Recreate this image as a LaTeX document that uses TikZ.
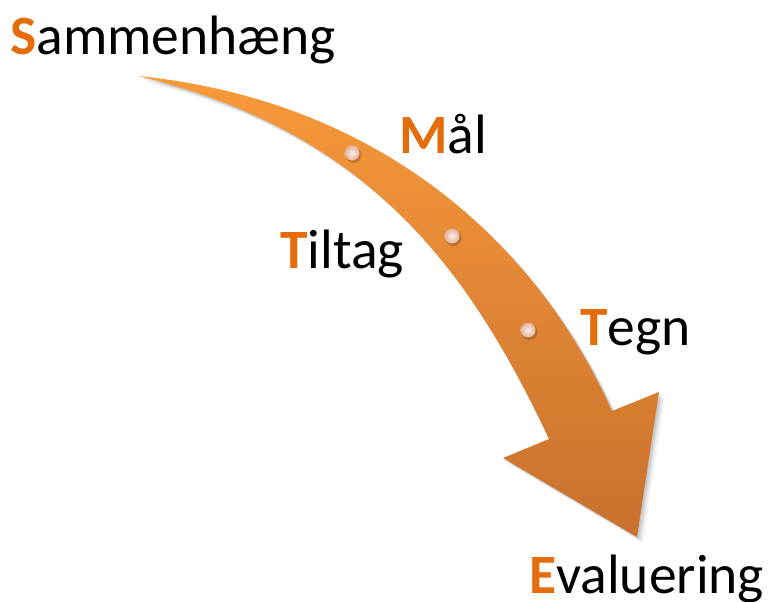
\documentclass[tikz,border=0pt]{standalone}
\usepackage{fontspec}
\setmainfont{Carlito}
\definecolor{accent}{RGB}{228,108,10}
\definecolor{arrtop}{RGB}{248,153,58}
\definecolor{arrbot}{RGB}{200,113,46}
\definecolor{dotin}{RGB}{252,238,230}
\definecolor{dotout}{RGB}{226,178,160}
\newcommand\firstl[1]{{\bfseries\color{accent}#1}}
\tikzset{
  lbl/.style={inner sep=0pt, anchor=base west, font=\fontsize{55.5}{60}\selectfont, text=black},
  dotball/.style={circle, minimum size=15pt, inner sep=0pt, inner color=dotin, outer color=dotout},
  dotshadow/.style={circle, minimum size=16pt, inner sep=0pt, fill=black, opacity=0.18}
}
\begin{document}
\begin{tikzpicture}[x=1pt,y=-1pt]
\useasboundingbox (0,0) rectangle (768,602);
\fill[white] (0,0) rectangle (768,602);
% arrow shape
\def\arrowpath{(138,76) .. controls (368,99) and (531,231) .. (612,411)
  -- (659,392) -- (637,537) -- (503,458) -- (549,439)
  .. controls (469,269) and (368,131) .. (138,76) -- cycle}
\foreach \o/\op in {6/0.04,4.5/0.05,3/0.07,1.5/0.08}{
  \fill[black, opacity=\op, shift={(\o,\o)}] \arrowpath;
}
\shade[top color=arrtop, bottom color=arrbot] \arrowpath;
% dots
\foreach \n/\px/\py in {d1/352/153, d2/452/236, d3/528/330}{
  \node[dotshadow] at (\px+1.5,\py+2) {};
  \node[dotball] (\n) at (\px,\py) {};
}
% labels
\node[lbl] (s) at (10,55) {\firstl{S}ammenhæng};
\node[lbl] (m) at (399,153) {\firstl{M}ål};
\node[lbl] (t1) at (280,268) {\firstl{T}iltag};
\node[lbl] (t2) at (580,345) {\firstl{T}egn};
\node[lbl] (e) at (529,593) {\firstl{E}valuering};
\end{tikzpicture}
\end{document}
